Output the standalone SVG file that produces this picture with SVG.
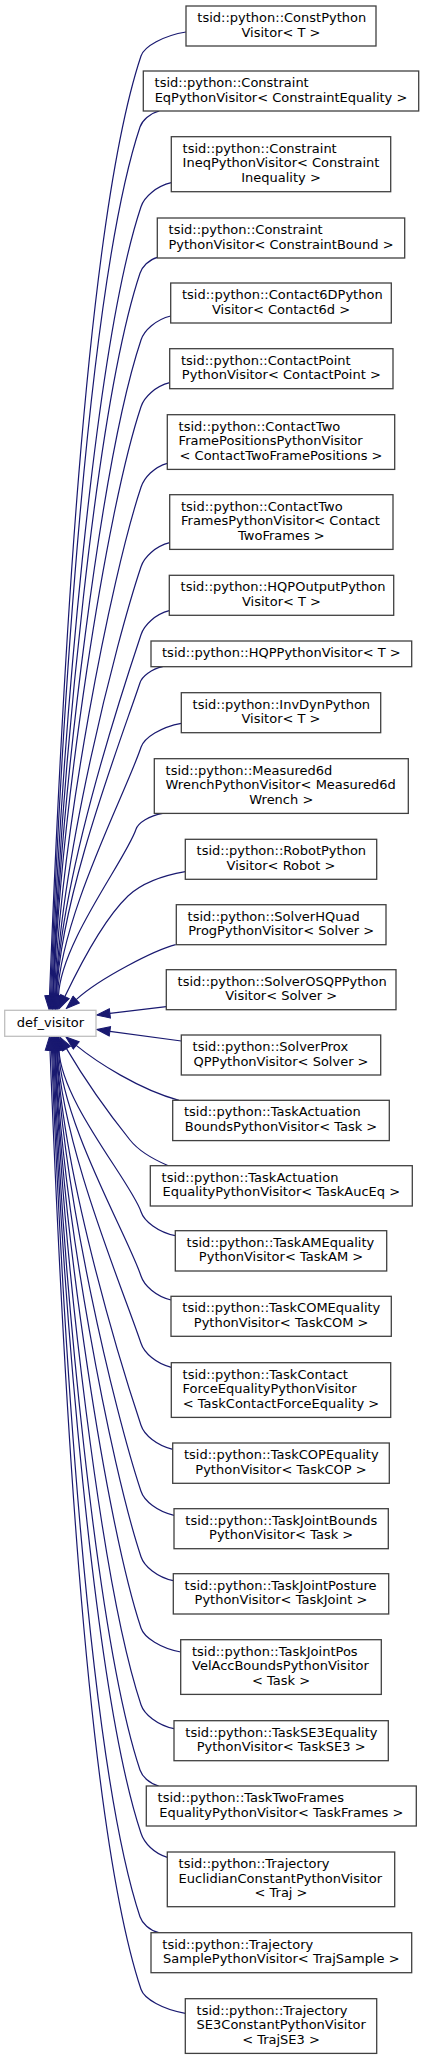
<svg xmlns="http://www.w3.org/2000/svg" width="424" height="2059" viewBox="0 0 424 2059">
<style>
.n rect{fill:#fff;stroke:#404040;stroke-width:1.3}
#def_visitor rect{fill:#fff;stroke:#bfbfbf;stroke-width:1.3}
text{font-family:"DejaVu Sans","Liberation Sans",sans-serif;font-size:13px;fill:#000}
.l{text-anchor:start}
.c{text-anchor:middle}
.e{fill:none;stroke:#191970;stroke-width:1.2;marker-end:url(#ah)}
</style>
<defs>
<marker id="ah" markerUnits="userSpaceOnUse" markerWidth="15" markerHeight="11" viewBox="-1 -5.5 15 11" refX="0" refY="0" orient="auto">
<path d="M0,-4.7 L13.3,0 L0,4.7 z" fill="#191970" stroke="#191970" stroke-width="1"/>
</marker>
</defs>
<rect width="424" height="2059" fill="#fff"/>
<g id="edges">
<path class="e" d="M186,32 C163.5,35.6 144.1,46.4 141,56 C84.6,225.2 61.5,695.2 49.5,996"/>
<path class="e" d="M159.3,111 C149.65,113.4 142.1,120.6 140,127 C87.9,283.4 61.6,718 50.5,996"/>
<path class="e" d="M171.3,182.7 C156.15,186.3 144.1,197.1 141,206.7 C93.6,348.8 61.6,743.4 51.5,996"/>
<path class="e" d="M157.3,257.3 C148.65,259.7 142.1,266.9 140,273.3 C96.6,403.4 61.75,764.7 52.5,996"/>
<path class="e" d="M170.7,316 C155.85,319.6 144.1,330.4 141,340 C101.6,458.1 61.4,786.1 53,996"/>
<path class="e" d="M169.7,382.7 C155.35,386.3 144.1,397.1 141,406.7 C105.6,512.8 61,807.4 53.5,996"/>
<path class="e" d="M167.3,463.3 C154.15,466.9 144.1,477.7 141,487.3 C110.5,578.9 61,833.2 54.5,996"/>
<path class="e" d="M169.7,542.7 C155.35,546.3 144.1,557.1 141,566.7 C115.2,644 61,858.6 55.5,996"/>
<path class="e" d="M169.3,610.7 C155.15,614.3 144.1,625.1 141,634.7 C119.3,699.7 60.6,880.4 56,996"/>
<path class="e" d="M162.7,666.7 C151.35,669.1 142.1,676.3 140,682.7 C121.2,739.1 60.5,895.7 56.5,996"/>
<path class="e" d="M181.3,723.3 C161.15,726.9 144.1,737.7 141,747.3 C126.1,792.1 60.7,916.4 57.5,996"/>
<path class="e" d="M162.7,813.3 C149.35,815.7 138.1,822.9 136,829.3 C126,859.3 60.6,942.7 58.5,996"/>
<path class="e" d="M185.3,871.7 C160,876 140,885 128,896 C105,918 80,965 64.9,996.6"/>
<path class="e" d="M175.7,944.7 C155,950 100,978 76.2,999.6"/>
<path class="e" d="M166.3,1006.7 L109.9,1013.4"/>
<path class="e" d="M181.3,1041 L109.9,1031.3"/>
<path class="e" d="M179,1100.3 C140,1090 96.2,1061.8 76.2,1045.4"/>
<path class="e" d="M168.3,1165.7 C150,1158 138,1150 130,1140 C110,1115 85,1080 66.5,1048.6"/>
<path class="e" d="M175.3,1235.7 C158.15,1232.1 144.1,1221.3 141,1211.7 C131.3,1182.6 61.1,1101.7 59,1050"/>
<path class="e" d="M171,1300 C156,1296.4 144.1,1285.6 141,1276 C127.4,1235.3 61.4,1122.3 58.5,1050"/>
<path class="e" d="M171.3,1367.3 C156.15,1363.7 144.1,1352.9 141,1343.3 C123.4,1290.5 61.25,1143.9 57.5,1050"/>
<path class="e" d="M172.7,1449.3 C156.85,1445.7 144.1,1434.9 141,1425.3 C118.5,1357.7 61.8,1170.1 57,1050"/>
<path class="e" d="M174,1515.3 C157.5,1511.7 144.1,1500.9 141,1491.3 C114.5,1411.9 62.1,1191.2 56.5,1050"/>
<path class="e" d="M173.3,1580.7 C157.15,1577.1 144.1,1566.3 141,1556.7 C110.6,1465.5 62,1212.1 55.5,1050"/>
<path class="e" d="M180.7,1652 C160.85,1648.4 144.1,1637.6 141,1628 C106.3,1524 62.4,1235 55,1050"/>
<path class="e" d="M174,1728.7 C157.5,1725.1 144.1,1714.3 141,1704.7 C101.7,1586.9 62.9,1259.5 54.5,1050"/>
<path class="e" d="M158.7,1786 C149.35,1783.6 142.1,1776.4 140,1770 C96.8,1640.4 62.7,1280.4 53.5,1050"/>
<path class="e" d="M167.3,1857.3 C154.15,1853.7 144.1,1842.9 141,1833.3 C94,1692.3 62.5,1300.7 52.5,1050"/>
<path class="e" d="M158.7,1932.7 C149.35,1930.3 142.1,1923.1 140,1916.7 C88,1760.7 62.6,1327.3 51.5,1050"/>
<path class="e" d="M185.3,2013.3 C163.15,2009.7 144.1,1998.9 141,1989.3 C84.6,1820.2 62,1350.6 50,1050"/>
</g>
<g id="def_visitor"><rect x="4.7" y="1010.3" width="91.3" height="26"/><text class="c" x="50.35" y="1026.5">def_visitor</text></g>
<g id="n1" class="n"><rect x="186" y="6" width="190" height="40"/><text class="l" x="197.3" y="22">tsid::python::ConstPython</text><text class="c" x="281" y="36.6">Visitor&lt; T &gt;</text></g>
<g id="n2" class="n"><rect x="143.3" y="71" width="275.4" height="40"/><text class="l" x="154.6" y="87">tsid::python::Constraint</text><text class="c" x="281" y="101.6">EqPythonVisitor&lt; ConstraintEquality &gt;</text></g>
<g id="n3" class="n"><rect x="171.3" y="136.7" width="219.4" height="55"/><text class="l" x="182.6" y="152.7">tsid::python::Constraint</text><text class="l" x="182.6" y="167.3">IneqPythonVisitor&lt; Constraint</text><text class="c" x="281" y="181.9">Inequality &gt;</text></g>
<g id="n4" class="n"><rect x="157.3" y="218" width="247.4" height="40"/><text class="l" x="168.6" y="234">tsid::python::Constraint</text><text class="c" x="281" y="248.6">PythonVisitor&lt; ConstraintBound &gt;</text></g>
<g id="n5" class="n"><rect x="170.7" y="283" width="220.6" height="40"/><text class="l" x="182" y="299">tsid::python::Contact6DPython</text><text class="c" x="281" y="313.6">Visitor&lt; Contact6d &gt;</text></g>
<g id="n6" class="n"><rect x="169.7" y="348.7" width="223.3" height="40"/><text class="l" x="181" y="364.7">tsid::python::ContactPoint</text><text class="c" x="281.35" y="379.3">PythonVisitor&lt; ContactPoint &gt;</text></g>
<g id="n7" class="n"><rect x="167.3" y="414.7" width="227.4" height="54.7"/><text class="l" x="178.6" y="430.7">tsid::python::ContactTwo</text><text class="l" x="178.6" y="445.3">FramePositionsPythonVisitor</text><text class="c" x="281" y="459.9">&lt; ContactTwoFramePositions &gt;</text></g>
<g id="n8" class="n"><rect x="169.7" y="494.7" width="223.3" height="54.7"/><text class="l" x="181" y="510.7">tsid::python::ContactTwo</text><text class="l" x="181" y="525.3">FramesPythonVisitor&lt; Contact</text><text class="c" x="281.35" y="539.9">TwoFrames &gt;</text></g>
<g id="n9" class="n"><rect x="169.3" y="575.3" width="224.4" height="40"/><text class="l" x="180.6" y="591.3">tsid::python::HQPOutputPython</text><text class="c" x="281.5" y="605.9">Visitor&lt; T &gt;</text></g>
<g id="n10" class="n"><rect x="151" y="641" width="260.7" height="25.7"/><text class="c" x="281.35" y="657.3">tsid::python::HQPPythonVisitor&lt; T &gt;</text></g>
<g id="n11" class="n"><rect x="181.3" y="692.7" width="199.4" height="40"/><text class="l" x="192.6" y="708.7">tsid::python::InvDynPython</text><text class="c" x="281" y="723.3">Visitor&lt; T &gt;</text></g>
<g id="n12" class="n"><rect x="154.3" y="758.7" width="254" height="54.7"/><text class="l" x="165.6" y="774.7">tsid::python::Measured6d</text><text class="l" x="165.6" y="789.3">WrenchPythonVisitor&lt; Measured6d</text><text class="c" x="281.3" y="803.9">Wrench &gt;</text></g>
<g id="n13" class="n"><rect x="185.3" y="839.3" width="191.4" height="40"/><text class="l" x="196.6" y="855.3">tsid::python::RobotPython</text><text class="c" x="281" y="869.9">Visitor&lt; Robot &gt;</text></g>
<g id="n14" class="n"><rect x="176.3" y="904.7" width="209.7" height="40"/><text class="l" x="187.6" y="920.7">tsid::python::SolverHQuad</text><text class="c" x="281.15" y="935.3">ProgPythonVisitor&lt; Solver &gt;</text></g>
<g id="n15" class="n"><rect x="166.3" y="969.7" width="229.7" height="40"/><text class="l" x="177.6" y="985.7">tsid::python::SolverOSQPPython</text><text class="c" x="281.15" y="1000.3">Visitor&lt; Solver &gt;</text></g>
<g id="n16" class="n"><rect x="181.3" y="1035" width="199.4" height="40"/><text class="l" x="192.6" y="1051">tsid::python::SolverProx</text><text class="c" x="281" y="1065.6">QPPythonVisitor&lt; Solver &gt;</text></g>
<g id="n17" class="n"><rect x="172.7" y="1100.3" width="216.6" height="40.3"/><text class="l" x="184" y="1116.3">tsid::python::TaskActuation</text><text class="c" x="281" y="1130.9">BoundsPythonVisitor&lt; Task &gt;</text></g>
<g id="n18" class="n"><rect x="150.3" y="1165.7" width="262" height="40.3"/><text class="l" x="161.6" y="1181.7">tsid::python::TaskActuation</text><text class="c" x="281.3" y="1196.3">EqualityPythonVisitor&lt; TaskAucEq &gt;</text></g>
<g id="n19" class="n"><rect x="175.3" y="1230.7" width="211.4" height="40.3"/><text class="l" x="186.6" y="1246.7">tsid::python::TaskAMEquality</text><text class="c" x="281" y="1261.3">PythonVisitor&lt; TaskAM &gt;</text></g>
<g id="n20" class="n"><rect x="171" y="1296.3" width="220.3" height="40"/><text class="l" x="182.3" y="1312.3">tsid::python::TaskCOMEquality</text><text class="c" x="281.15" y="1326.9">PythonVisitor&lt; TaskCOM &gt;</text></g>
<g id="n21" class="n"><rect x="171.3" y="1362.7" width="219.4" height="54.7"/><text class="l" x="182.6" y="1378.7">tsid::python::TaskContact</text><text class="l" x="182.6" y="1393.3">ForceEqualityPythonVisitor</text><text class="c" x="281" y="1407.9">&lt; TaskContactForceEquality &gt;</text></g>
<g id="n22" class="n"><rect x="172.7" y="1443" width="216.6" height="40.3"/><text class="l" x="184" y="1459">tsid::python::TaskCOPEquality</text><text class="c" x="281" y="1473.6">PythonVisitor&lt; TaskCOP &gt;</text></g>
<g id="n23" class="n"><rect x="174" y="1508.7" width="214.3" height="40"/><text class="l" x="185.3" y="1524.7">tsid::python::TaskJointBounds</text><text class="c" x="281.15" y="1539.3">PythonVisitor&lt; Task &gt;</text></g>
<g id="n24" class="n"><rect x="173.3" y="1573.7" width="215.4" height="40.3"/><text class="l" x="184.6" y="1589.7">tsid::python::TaskJointPosture</text><text class="c" x="281" y="1604.3">PythonVisitor&lt; TaskJoint &gt;</text></g>
<g id="n25" class="n"><rect x="180.7" y="1639.7" width="200.6" height="54.7"/><text class="l" x="192" y="1655.7">tsid::python::TaskJointPos</text><text class="l" x="192" y="1670.3">VelAccBoundsPythonVisitor</text><text class="c" x="281" y="1684.9">&lt; Task &gt;</text></g>
<g id="n26" class="n"><rect x="174" y="1720.7" width="214.3" height="40"/><text class="l" x="185.3" y="1736.7">tsid::python::TaskSE3Equality</text><text class="c" x="281.15" y="1751.3">PythonVisitor&lt; TaskSE3 &gt;</text></g>
<g id="n27" class="n"><rect x="146.3" y="1786" width="270" height="40"/><text class="l" x="157.6" y="1802">tsid::python::TaskTwoFrames</text><text class="c" x="281.3" y="1816.6">EqualityPythonVisitor&lt; TaskFrames &gt;</text></g>
<g id="n28" class="n"><rect x="167.3" y="1852" width="227.4" height="54.7"/><text class="l" x="178.6" y="1868">tsid::python::Trajectory</text><text class="l" x="178.6" y="1882.6">EuclidianConstantPythonVisitor</text><text class="c" x="281" y="1897.2">&lt; Traj &gt;</text></g>
<g id="n29" class="n"><rect x="151" y="1932.7" width="260.7" height="40"/><text class="l" x="162.3" y="1948.7">tsid::python::Trajectory</text><text class="c" x="281.35" y="1963.3">SamplePythonVisitor&lt; TrajSample &gt;</text></g>
<g id="n30" class="n"><rect x="185.3" y="1998.7" width="191.4" height="54.7"/><text class="l" x="196.6" y="2014.7">tsid::python::Trajectory</text><text class="l" x="196.6" y="2029.3">SE3ConstantPythonVisitor</text><text class="c" x="281" y="2043.9">&lt; TrajSE3 &gt;</text></g>
</svg>
